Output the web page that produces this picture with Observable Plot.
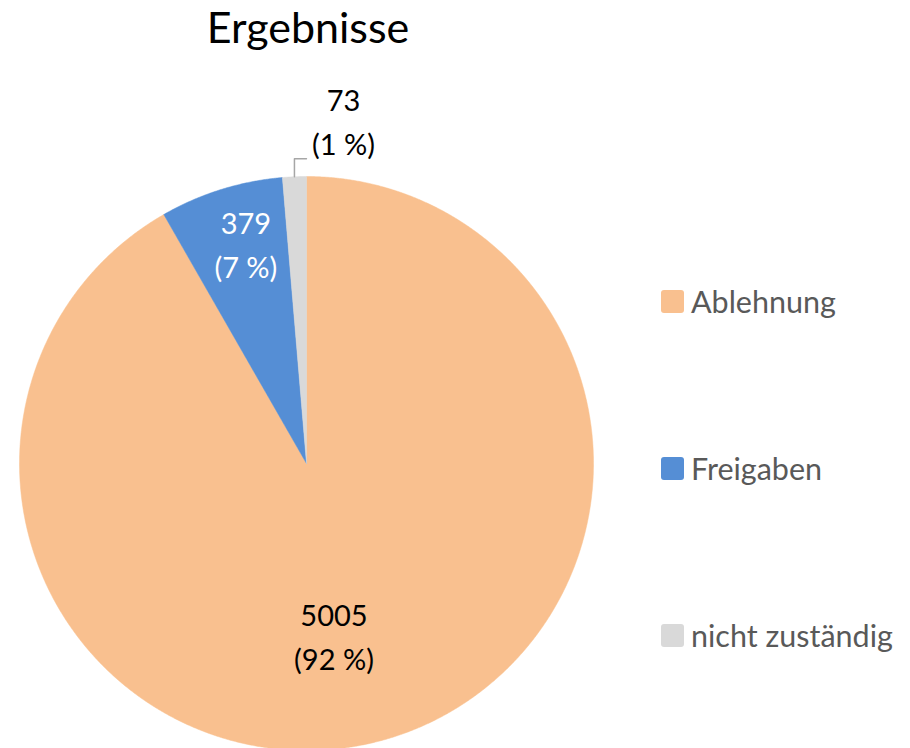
<!DOCTYPE html>
<html>
<head>
<meta charset="utf-8">
<script src="https://cdn.jsdelivr.net/npm/d3@7"></script>
<script src="https://cdn.jsdelivr.net/npm/@observablehq/plot@0.6"></script>
<style>
  body { margin: 0; background: #fff; font-family: Lato, "Open Sans", sans-serif; }
  #wrap { position: relative; width: 910px; height: 748px; overflow: hidden; }
  #chart { position: absolute; left: 0; top: 0; }
  #title { position: absolute; left: 308px; top: 5px; transform: translateX(-50%); font-size: 43px; line-height: 43px; color: #000; white-space: nowrap; }
  .item { position: absolute; left: 661px; display: flex; align-items: center; font-size: 30.5px; color: #595959; white-space: nowrap; }
  .sw { width: 23px; height: 23px; border-radius: 3px; margin-right: 7px; }
</style>
</head>
<body>
<div id="wrap">
  <div id="chart"></div>
  <div id="title">Ergebnisse</div>
  <div id="legend"></div>
</div>
<script>
const categories = ["Ablehnung", "Freigaben", "nicht zuständig"];
const values = [5005, 379, 73];
const colors = ["#F9C08F", "#558ED5", "#D9D9D9"];

const W = 910, H = 748, cx = 306, cy = 463, R = 287;
const total = d3.sum(values);
const arcs = d3.pie().sort(null).startAngle(0).endAngle(2 * Math.PI)(values);

const slices = arcs.map((a, i) => {
  const pts = [{x: 0, y: 0}];
  const n = Math.max(4, Math.ceil((a.endAngle - a.startAngle) / 0.004));
  for (let k = 0; k <= n; k++) {
    const t = a.startAngle + (a.endAngle - a.startAngle) * k / n;
    pts.push({x: Math.sin(t), y: Math.cos(t)});
  }
  pts.push({x: 0, y: 0});
  return {cat: categories[i], pts};
});

const fmt = (v) => `${v}\n(${Math.round(v / total * 100)} %)`;
const mid = arcs.map(a => (a.startAngle + a.endAngle) / 2);

// inside labels
const inside = [
  {i: 0, r: 0.60, da: 0.1, color: "#000"},
  {i: 1, r: 0.80, da: 0.035, color: "#fff"}
].map(o => ({
  x: o.r * Math.sin(mid[o.i] + o.da),
  y: o.r * Math.cos(mid[o.i] + o.da),
  text: fmt(values[o.i]),
  color: o.color
}));

// outside label for small slice
const gi = 2;
const ex = Math.sin(mid[gi]), ey = Math.cos(mid[gi]);
const leader = [
  {x: ex, y: ey},
  {x: ex, y: ey + 18 / R},
  {x: ex + 12 / R, y: ey + 18 / R}
];
const outside = [{x: ex + 49 / R, y: ey + 58 / R, text: fmt(values[gi])}];

const plot = Plot.plot({
  width: W,
  height: H,
  margin: 0,
  x: {domain: [-cx / R, (W - cx) / R], axis: null},
  y: {domain: [-(H - cy) / R, cy / R], axis: null},
  style: {fontFamily: "Lato, 'Open Sans', sans-serif", background: "transparent"},
  marks: [
    ...slices.map((s, i) => Plot.line(s.pts, {x: "x", y: "y", fill: colors[i], stroke: colors[i], strokeWidth: 0.5})),
    Plot.line(leader, {x: "x", y: "y", stroke: "#A6A6A6", strokeWidth: 1.5}),
    Plot.text(inside, {x: "x", y: "y", text: "text", fill: "color", fontSize: 29, lineHeight: 1.52, textAnchor: "middle"}),
    Plot.text(outside, {x: "x", y: "y", text: "text", fill: "#000", fontSize: 29, lineHeight: 1.52, textAnchor: "middle"})
  ]
});
document.getElementById("chart").appendChild(plot);

const legendY = [301, 468, 635];
const lg = document.getElementById("legend");
categories.forEach((c, i) => {
  const d = document.createElement("div");
  d.className = "item";
  d.style.top = (legendY[i] - 20) + "px";
  d.style.height = "40px";
  d.innerHTML = `<span class="sw" style="background:${colors[i]}"></span><span>${c}</span>`;
  lg.appendChild(d);
});
</script>
</body>
</html>
